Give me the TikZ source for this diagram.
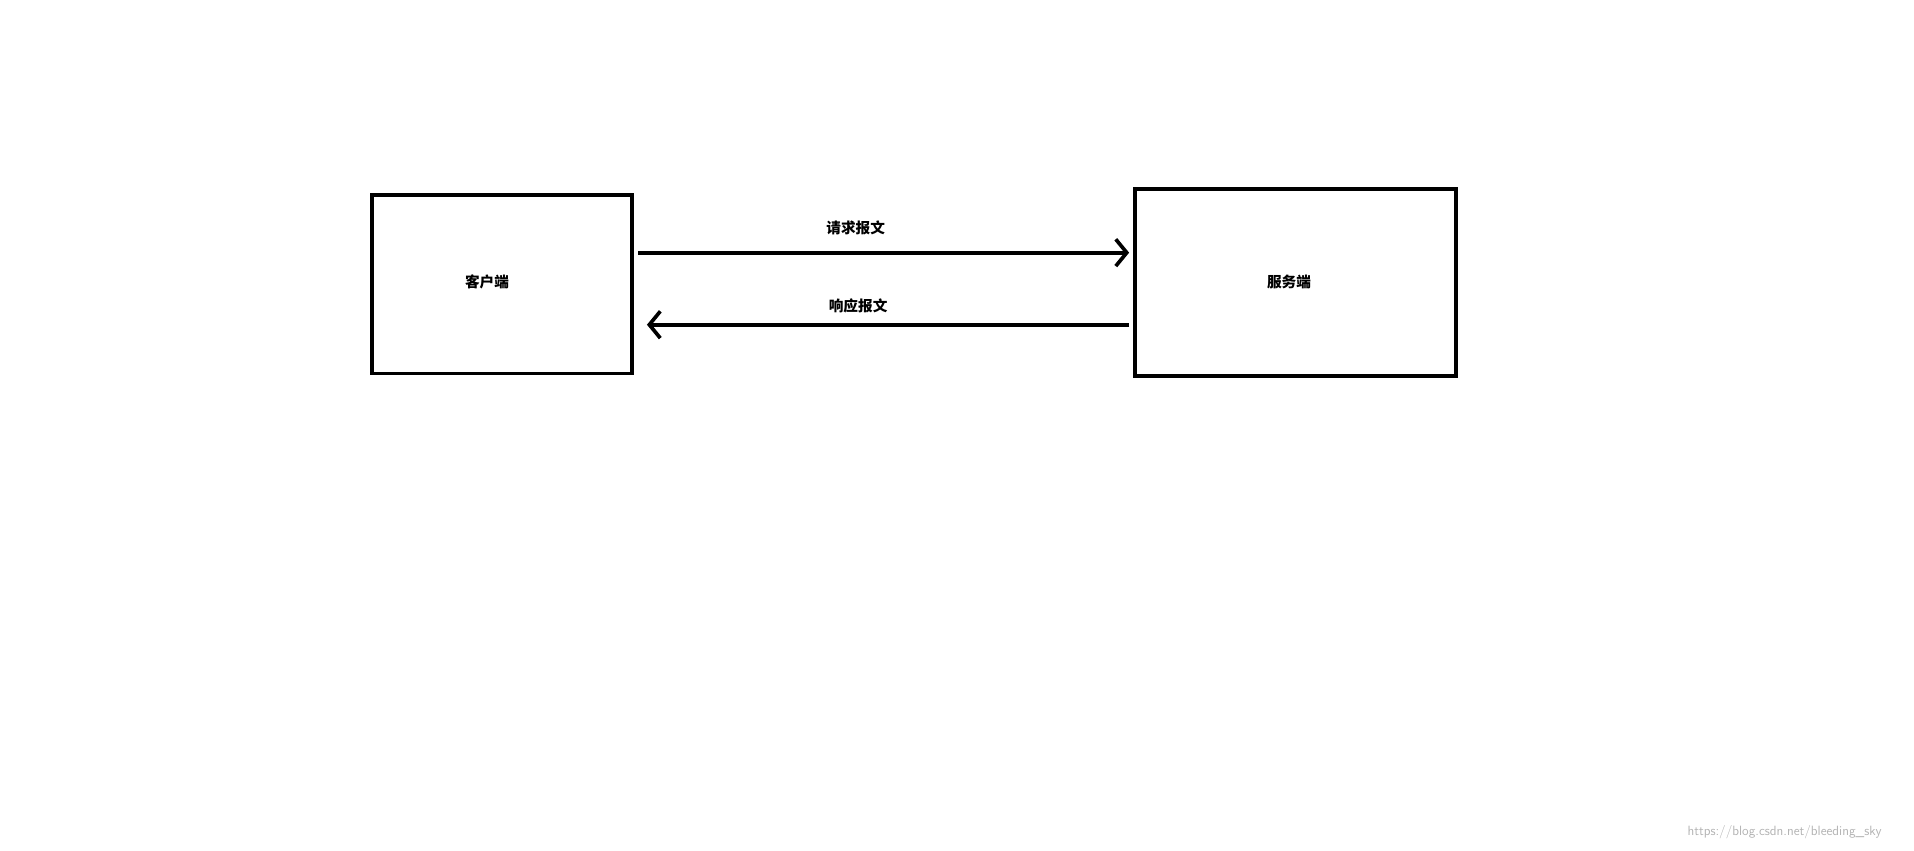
\documentclass[tikz,border=0pt]{standalone}
\usepackage{fontspec}
\newfontfamily\cjk{Noto Sans CJK SC}
\usetikzlibrary{arrows.meta}
\begin{document}
\begin{tikzpicture}[x=1pt,y=-1pt,
  box/.style={draw,line width=3pt,inner sep=0pt},
  lbl/.style={font=\cjk\bfseries\fontsize{12}{14}\selectfont},
  conn/.style={line width=3pt,-{Straight Barb[length=9pt,width=22pt,line width=3pt]}}]
\useasboundingbox (0,0) rectangle (1568,697);
\node[box,minimum width=213pt,minimum height=146pt] (c) at (411.5,233) {};
\node[box,minimum width=263pt,minimum height=153pt] (s) at (1061.5,231.5) {};
\node[lbl] (ct) at (399,231) {客户端};
\node[lbl] (st) at (1056,231) {服务端};
\coordinate (a1) at (523,207); \coordinate (b1) at (925,207);
\coordinate (a2) at (925,266); \coordinate (b2) at (530,266);
\draw[conn] (a1) -- (b1);
\draw[conn] (a2) -- (b2);
\node[lbl] (l1) at (701,187) {请求报文};
\node[lbl] (l2) at (703,251) {响应报文};
\node[text=gray!60,font=\fontsize{11}{13}\selectfont\sffamily] (w) at (1462,682) {https://blog.csdn.net/bleeding\_sky};
\end{tikzpicture}
\end{document}
